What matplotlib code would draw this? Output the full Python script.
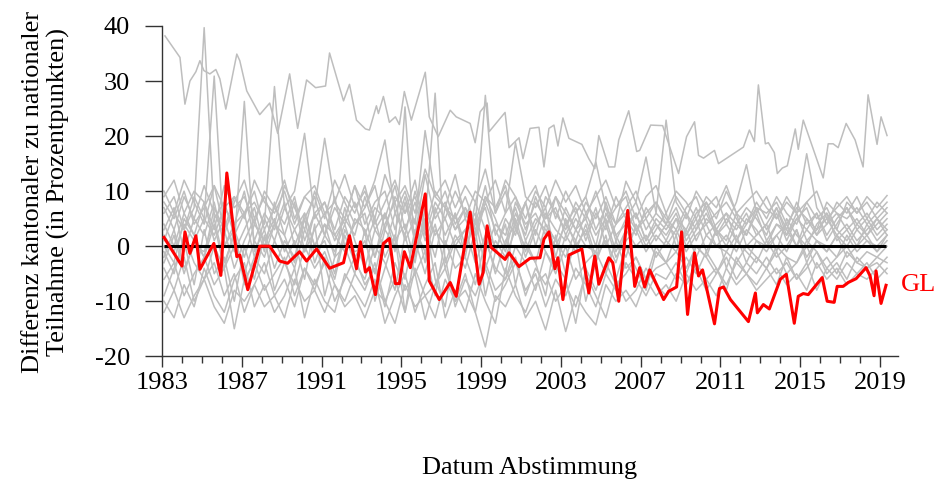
import numpy as np
import matplotlib
matplotlib.use("Agg")
import matplotlib.pyplot as plt
from matplotlib.ticker import MultipleLocator

plt.rcParams['font.family'] = ['Liberation Serif', 'DejaVu Serif']

# ---------------- data ----------------
red_label = "GL"
red_dates = [1983.1, 1984.0, 1984.15, 1984.4, 1984.7, 1984.9, 1985.6, 1985.95, 1986.25, 1986.75,
             1986.9, 1987.3, 1987.9, 1988.4, 1988.9, 1989.3, 1989.9, 1990.25, 1990.75, 1991.4,
             1992.1, 1992.4, 1992.75, 1992.95, 1993.2, 1993.4, 1993.7, 1994.1, 1994.4, 1994.7,
             1994.9, 1995.15, 1995.45, 1996.2, 1996.4, 1996.9, 1997.45, 1997.75, 1998.45, 1998.9,
             1999.1, 1999.3, 1999.5, 2000.2, 2000.4, 2000.9, 2001.45, 2001.95, 2002.15, 2002.4,
             2002.7, 2002.85, 2003.1, 2003.4, 2004.05, 2004.4, 2004.7, 2004.9, 2005.4, 2005.6,
             2005.9, 2006.35, 2006.7, 2006.95, 2007.2, 2007.45, 2008.15, 2008.4, 2008.8, 2009.05,
             2009.35, 2009.7, 2009.9, 2010.1, 2010.7, 2010.95, 2011.15, 2011.5, 2012.4, 2012.75,
             2012.85, 2013.15, 2013.45, 2014.0, 2014.3, 2014.7, 2014.9, 2015.15, 2015.4, 2016.1,
             2016.35, 2016.7, 2016.85, 2017.15, 2017.4, 2017.8, 2018.3, 2018.5, 2018.7, 2018.8,
             2019.05, 2019.3]
red_values = [1.6, -3.6, 2.6, -1.3, 1.9, -4.2, 0.5, -5.3, 13.3, -1.9,
              -1.6, -7.9, 0.0, 0.0, -2.7, -3.1, -1.0, -2.7, -0.5, -4.0,
              -3.0, 1.9, -4.1, 0.8, -4.7, -3.9, -8.8, 0.5, 1.4, -6.8,
              -6.8, -1.0, -3.9, 9.5, -6.3, -9.7, -6.6, -9.1, 6.2, -6.9,
              -4.8, 3.7, -0.2, -2.4, -1.2, -3.7, -2.2, -2.1, 1.3, 2.6,
              -4.1, -2.1, -9.7, -1.6, -0.5, -8.5, -1.8, -6.9, -2.1, -3.0,
              -10.0, 6.5, -7.3, -3.9, -7.4, -4.3, -9.7, -8.2, -7.4, 2.6,
              -12.4, -1.2, -5.4, -4.3, -14.1, -7.7, -7.4, -9.7, -13.7, -8.5,
              -12.1, -10.6, -11.4, -6.0, -5.1, -14.0, -9.1, -8.6, -8.8, -5.7,
              -10.0, -10.2, -7.3, -7.3, -6.6, -5.9, -3.9, -5.4, -9.0, -4.5,
              -10.4, -7.1]

top_dates = [1983.15, 1983.9, 1984.15, 1984.4, 1984.7, 1984.9, 1985.1, 1985.4, 1985.7, 1985.9,
             1986.2, 1986.75, 1986.9, 1987.25, 1987.9, 1988.4, 1988.8, 1989.4, 1989.8, 1990.25,
             1990.7, 1991.2, 1991.4, 1992.1, 1992.4, 1992.75, 1993.2, 1993.4, 1993.75, 1993.85,
             1994.1, 1994.4, 1994.7, 1994.9, 1995.15, 1995.5, 1996.2, 1996.4, 1996.85, 1997.45,
             1997.75, 1998.45, 1998.7, 1998.95, 1999.3, 1999.4, 2000.2, 2000.4, 2000.9, 2001.1,
             2001.45, 2001.9, 2002.15, 2002.4, 2002.65, 2002.85, 2003.1, 2003.4, 2004.05, 2004.4,
             2004.7, 2004.9, 2005.4, 2005.7, 2005.9, 2006.4, 2006.8, 2006.95, 2007.5, 2008.1,
             2008.9, 2009.3, 2009.7, 2009.9, 2010.15, 2010.7, 2010.9, 2012.15, 2012.45, 2012.7,
             2012.9, 2013.25, 2013.4, 2013.7, 2013.85, 2014.1, 2014.35, 2014.75, 2014.9, 2015.15,
             2016.15, 2016.4, 2016.65, 2016.9, 2017.3, 2017.75, 2018.15, 2018.4, 2018.85, 2019.05,
             2019.35]
top_values = [38.2, 34.3, 25.8, 30.0, 31.7, 33.7, 31.9, 31.3, 32.1, 30.4,
              24.9, 34.9, 33.7, 28.2, 23.9, 26.0, 20.5, 31.3, 21.4, 30.2,
              28.8, 29.1, 35.1, 26.4, 29.4, 22.9, 21.3, 21.1, 25.5, 24.1,
              27.2, 22.5, 23.5, 22.1, 28.1, 22.9, 31.6, 23.5, 19.9, 24.7,
              23.5, 22.3, 18.8, 24.4, 26.0, 20.8, 24.3, 17.9, 19.7, 15.9,
              21.4, 21.6, 14.4, 21.4, 22.0, 18.2, 23.3, 19.6, 18.5, 15.9,
              14.1, 20.1, 14.4, 14.4, 19.3, 24.6, 17.2, 17.4, 22.0, 21.9,
              13.2, 19.9, 22.6, 16.5, 16.0, 17.4, 15.0, 18.0, 21.1, 19.0,
              29.3, 18.6, 18.8, 17.0, 13.2, 14.2, 14.6, 21.3, 17.6, 22.9,
              12.4, 18.6, 18.6, 17.9, 22.3, 19.3, 14.4, 27.5, 18.5, 23.5,
              20.1]

gray_dates = np.linspace(1983.1, 2019.35, 73)

gray_s1 = [6, 9, 3, 7, 39.7, 5, 8, 2, 6, 10,
           3, 7, 4, 9, 1, 6, 8, 2, 5, 11,
           4, 8, 10, 3, 9, 2, 13, 5, 8, 3,
           7, 4, 11, 2, 6, 9, 3, 8, 5, 7,
           2, 6, 9, 3, 7, 1, 5, 8, 3, 6,
           4, 7, 2, 6, 8, 3, 6, 4, 7, 5,
           2, 7, 3, 8, 4, 6, 2, 5, 7, 4,
           6, 3, 5]
gray_s2 = [2, -1, 4, 1, 5, 30.9, 0, 3, -2, 4,
           1, 5, -1, 3, 6, 0, 4, 2, -1, 5,
           3, -2, 6, 1, 4, -3, 7, 2, 5, 0,
           3, 6, -1, 4, 2, 7, 1, 5, 3, 0,
           4, 1, 6, 2, 5, -1, 3, 6, 1, 4,
           2, 5, 0, 3, 6, 2, 4, 1, 5, 3,
           0, 4, 2, 6, 1, 3, 5, 2, 4, 1,
           3, 5, 2]
gray_s3 = [8, 5, 10, 4, 7, 11, 3, 9, 6, 8,
           4, 29, 7, 10, 20.5, 5, 8, 3, 9, 6,
           11, 4, 8, 12, 6, 9, 3, 10, 7, 5,
           9, 4, 27.4, 6, 10, 3, 8, 11, 5, 9,
           6, 3, 8, 5, 9, 4, 7, 10, 5, 8,
           4, 9, 6, 3, 8, 5, 10, 6, 4, 8,
           5, 9, 6, 4, 8, 5, 7, 3, 8, 6,
           9, 7, 9.2]
gray_s4 = [-3, 2, -5, 1, -2, 4, -4, 0, 26.3, -1,
           3, -4, 1, -2, 5, -3, 2, -1, 4, -2,
           1, -5, 3, 0, 25.3, -2, 4, 27.8, -3, 2,
           -1, 5, -4, 1, -2, 3, 0, -3, 4, 1,
           -2, 3, 0, -1, 4, -2, 1, 3, -1, 2,
           0, 3, -1, 2, 4, 0, 2, -1, 3, 1,
           -1, 2, 4, 0, 3, 1, -1, 2, 0, 3,
           1, -1, 2]
gray_s5 = [10, 6, 12, 8, 4, 11, 7, 9, 5, 12,
           8, 6, 10, 4, 9, 7, 19.6, 8, 5, 11,
           7, 12, 19.3, 6, 10, 4, 21, 9, 7, 13,
           5, 10, 8, 12, 6, 18.8, 9, 7, 11, 5,
           10, 6, 9, 15.3, 7, 4, 11.8, 8, 16.2, 6,
           22.9, 8, 5, 10, 7, 9, 4, 8, 14.8, 6,
           9, 5, 8, 6, 16.8, 7, 4, 8, 6, 9,
           5, 8, 6]
gray_s6 = [-12, -8, -13, -9, -6, -11, -14, -8, -10, -7,
           -11, -9, -13, -6, -10, -8, -12, -7, -11, -9,
           -13, -8, -10, -14, -7, -11, -9, -13, -6, -10,
           -8, -12, -18.3, -9, -11, -7, -13, -10, -15.2, -8,
           -15.5, -9, -12, -14.3, -7, -10, -8, -11, -6, -9,
           -7, -10, -5, -8, -6, -9, -4, -7, -5, -8,
           -6, -4, -7, -5, -8, -3, -6, -4, -7, -5,
           -3, -6, -4]
gray_s7 = [-6, -3, -9, -5, -2, -7, -4, -15, -6, -3,
           -8, -5, -2, -9, -4, -7, -3, -10, -6, -2,
           -7, -4, -11, -3, -8, -5, -13.3, -7, -4, -10,
           -5, -12, -3, -8, -6, -2, -9, -4, -7, -3,
           -6, -14, -4, -8, -3, -7, -5, -2, -6, -4,
           -3, -6, -2, -5, -1, -4, -7, -3, -5, -2,
           -4, -1, -5, -3, 0, -4, -2, -5, -1, -3,
           -4, -2, -3]
gray_s8 = [4, 0, 6, 2, 8, 1, 5, -1, 3, 7,
           0, 4, 2, 8, -1, 3, 6, 1, 5, 2,
           9, 3, 0, 6, 2, 10, 4, -2, 7, 3,
           5, 1, 8, 3, -1, 6, 2, 9, 4, 1,
           7, 3, 5, 0, 8, 2, 4, 6, 1, 5,
           3, 6, 1, 4, 7, 2, 5, 3, 6, 2,
           4, 7, 2, 5, 3, 6, 1, 4, 7, 3,
           5, 2, 4]
gray_s9 = [-1, -5, 2, -3, -6, 0, -4, 3, -7, -2,
           -5, 1, -3, -7, 0, -4, -1, -6, 2, -3,
           -6, 0, -3, -8, 2, -5, -1, -9, 1, -4,
           -2, -7, 1, -4, -6, 0, -3, -8, -1, -5,
           0, -6, -3, -1, -5, 1, -4, -2, -6, 0,
           -3, -1, -4, 0, -2, -5, -1, -3, 0, -2,
           -4, 0, -2, -3, 1, -1, -4, -2, 0, -3,
           -1, -2, 0]
gray_s10 = [9, 12, 6, 10, 8, 3, 11, 7, 9, 4,
            10, 7, 12, 5, 9, 11, 6, 8, 13, 7,
            10, 5, 13, 8, 11, 6, 14, 9, 12, 7,
            11, 8, 14, 6, 12, 9, 5, 10, 7, 12,
            8, 11, 6, 9, 12, 7, 10, 5, 9, 11,
            6, 10, 8, 5, 9, 7, 11, 6, 8, 10,
            7, 5, 9, 6, 8, 10, 5, 7, 9, 6,
            8, 5, 7]
gray_s11 = [-9, -4, 1, -7, 3, -5, -2, -10, 0, -6,
            2, -8, -3, 1, -6, 4, -9, -2, 0, -5,
            3, -10, -4, 2, -12, -1, 5, -6, -11, 0,
            -4, 3, -9, -1, 4, -7, 1, -3, -9, 2,
            -5, 1, -10, -3, 2, -6, 0, -4, -8, -1,
            -3, 2, -5, 0, -2, 3, -4, 1, -1, -3,
            1, -2, 0, 3, -3, 1, -1, 2, -2, 0,
            2, -1, 1]
gray_s12 = [1, 6, 3, 9, 5, 2, 7, 4, 10, 1,
            6, 3, 8, 0, 5, 9, 2, 7, 4, 8,
            2, 7, 5, 11, 3, 8, 1, 6, 10, 4,
            7, 2, 9, 5, 0, 8, 4, 6, 2, 9,
            4, 7, 1, 6, 3, 9, 5, 2, 7, 4,
            1, 5, 3, 7, 2, 4, 6, 1, 4, 7,
            3, 6, 1, 5, 7, 2, 4, 6, 3, 5,
            2, 4, 6]
gray_s13 = [-4, -8, -2, -10, -6, -3, -9, -5, -12, -7,
            -3, -9, -6, -11, -4, -8, -2, -7, -10, -5,
            -8, -3, -10, -6, -12, -4, -9, -7, -2, -11,
            -6, -9, -4, -10, -7, -3, -8, -5, -11, -6,
            -9, -4, -7, -11, -5, -8, -3, -6, -9, -5,
            -6, -3, -7, -4, -8, -5, -2, -6, -3, -5,
            -2, -5, -3, -6, -4, -1, -5, -3, -6, -2,
            -4, -3, -5]
gray_s14 = [3, 7, -1, 5, 2, 8, 0, 4, 6, -2,
            5, 1, 7, 3, -1, 6, 2, 9, 0, 4,
            6, -2, 4, 8, 1, 5, -3, 7, 2, 6,
            0, 4, 7, -1, 5, 2, 8, 0, 6, 3,
            1, 5, 2, 7, 0, 4, 6, 3, 5, 1,
            4, 2, 6, 1, 5, 3, 0, 4, 2, 6,
            1, 4, 3, 0, 5, 2, 6, 3, 1, 4,
            2, 5, 3]
gray_s15 = [-2, 3, -4, 0, -1, 5, -3, 2, -5, 1,
            -2, 4, 0, -4, 3, -1, 1, -5, 3, -1,
            0, 5, -2, 2, -6, 3, -1, 4, -4, 1,
            3, -3, 2, -5, 1, 4, -2, 3, -1, -4,
            2, -1, 4, -2, 1, -3, 3, 0, 2, -2,
            1, -1, 3, -2, 2, 0, -1, 2, -3, 1,
            0, 2, -1, 3, -2, 1, 0, -2, 2, -1,
            1, 0, 2]
gray_s16 = [7, 3, 9, 5, 11, 6, 2, 8, 12, 5,
            9, 4, 11, 7, 3, 10, 5, 12, 8, 4,
            7, 11, 3, 9, 6, 12, 2, 8, 5, 10,
            6, 3, 9, 7, 11, 4, 8, 2, 9, 6,
            3, 8, 5, 10, 4, 7, 9, 3, 6, 8,
            5, 3, 7, 9, 4, 6, 8, 5, 2, 7,
            6, 8, 4, 7, 5, 3, 8, 6, 5, 7,
            4, 6, 8]
gray_s17 = [-10, -13, -7, -11, -4, -9, -12, -6, -3, -11,
            -7, -12, -9, -4, -13, -6, -10, -12, -5, -8,
            -11, -6, -14, -9, -5, -12, -7, -3, -13, -8,
            -12, -5, -10, -14, -4, -9, -12, -7, -5, -10,
            -7, -11, -5, -9, -13, -6, -10, -8, -4, -7,
            -9, -5, -7, -3, -6, -4, -8, -2, -5, -7,
            -4, -7, -2, -6, -3, -8, -4, -6, -3, -5,
            -6, -4, -2]
gray_s18 = [0, -3, 5, 2, -2, 7, 3, -4, 1, 5,
            -1, 8, 2, -3, 6, 0, 4, -2, 7, 1,
            -4, 3, 6, -1, 8, 1, -5, 3, 0, 6,
            -2, 8, 3, 0, -5, 5, -1, 4, 7, -2,
            5, 0, 3, -3, 6, 2, -2, 4, 0, 3,
            6, 0, 2, 5, -1, 3, 1, 6, 0, 2,
            4, -1, 5, 2, 0, 4, 6, 1, 3, 0,
            4, 1, 3]

gray_series = [gray_s1, gray_s2, gray_s3, gray_s4, gray_s5, gray_s6, gray_s7, gray_s8,
               gray_s9, gray_s10, gray_s11, gray_s12, gray_s13, gray_s14, gray_s15,
               gray_s16, gray_s17, gray_s18]

y_ticks = [-20, -10, 0, 10, 20, 30, 40]
x_major_ticks = [1983, 1987, 1991, 1995, 1999, 2003, 2007, 2011, 2015, 2019]

# ---------------- plot ----------------
W, H = 937, 480
FS = 19
fig = plt.figure(figsize=(W / 100, H / 100), dpi=100)
x0, x1 = 162, 898
y_top, y_bot = 26, 356.3
ax = fig.add_axes([x0 / W, 1 - y_bot / H, (x1 - x0) / W, (y_bot - y_top) / H])

gray = '#BEBEBE'
for s in gray_series:
    ax.plot(gray_dates, s, color=gray, lw=1.1, zorder=1)
ax.plot(top_dates, top_values, color=gray, lw=1.1, zorder=1)

ax.plot([red_dates[0], red_dates[-1]], [0, 0], color='black', lw=2.2, zorder=2,
        solid_capstyle='butt')
ax.plot(red_dates, red_values, color='#FF0000', lw=2.2, zorder=3)
ax.text(red_dates[-1] + 0.75, red_values[-1], red_label, color='#FF0000', fontsize=FS,
        va='center', ha='left', clip_on=False)

ax.set_xlim(1983, 2019.9)
ax.set_ylim(-20, 40)
for sp in ['top', 'right']:
    ax.spines[sp].set_visible(False)
for sp in ['left', 'bottom']:
    ax.spines[sp].set_linewidth(1.0)
    ax.spines[sp].set_color('#333333')

ax.set_yticks(y_ticks)
ax.set_yticklabels([str(v) for v in y_ticks])
ax.set_xticks(x_major_ticks)
ax.set_xticklabels([str(v) for v in x_major_ticks])
ax.xaxis.set_minor_locator(MultipleLocator(1))
ax.tick_params(axis='y', length=12, width=1.0, pad=11, labelsize=FS, color='#333333')
ax.tick_params(axis='x', which='major', length=8, width=1.0, pad=3, labelsize=FS, color='#333333')
ax.tick_params(axis='x', which='minor', length=5, width=1.0, color='#333333')

fig.text(46 / W, 1 - 192 / H, "Differenz kantonaler zu nationaler\nTeilnahme (in Prozentpunkten)",
         fontsize=FS, rotation=90, ha='center', va='center', linespacing=1.2)
fig.text(530 / W, 1 - 468 / H, "Datum Abstimmung", fontsize=FS, ha='center', va='center')

fig.savefig('out.png', dpi=100)
